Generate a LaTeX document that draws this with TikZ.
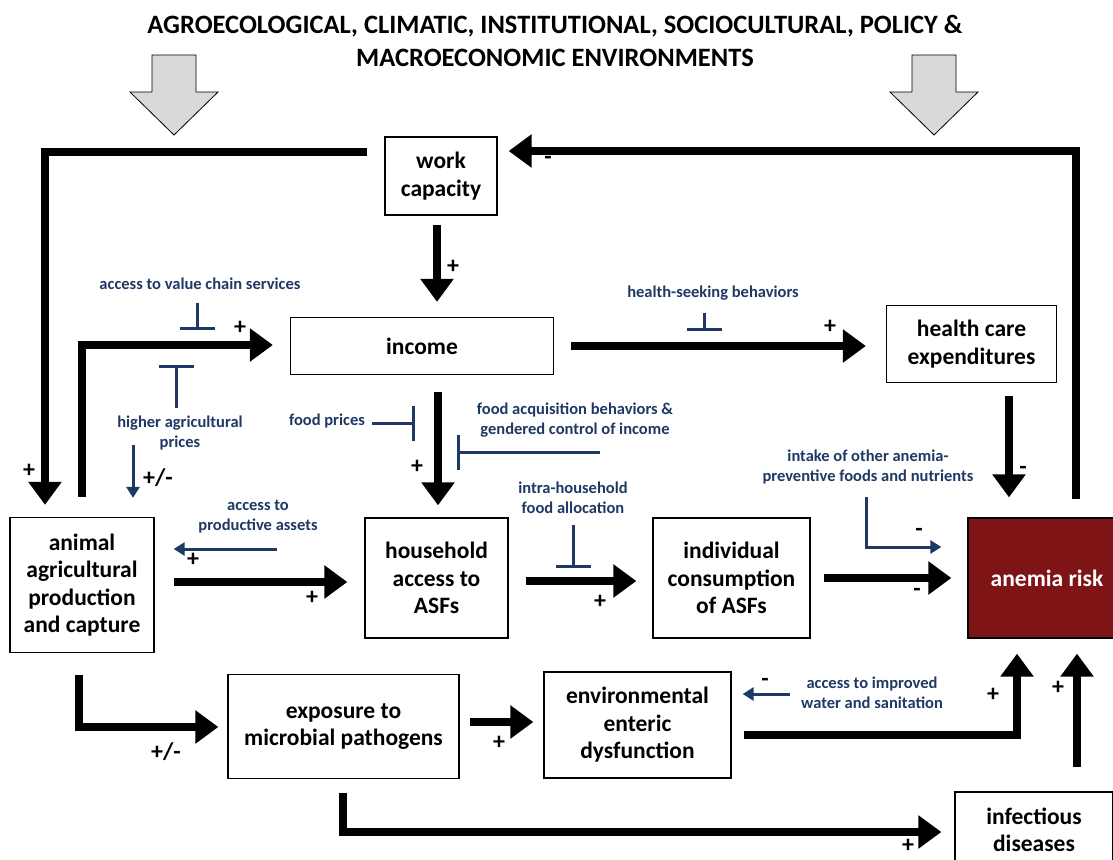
\documentclass[tikz,border=0pt]{standalone}
\usepackage{fontspec}
\setmainfont{Carlito}
\usetikzlibrary{arrows.meta,calc}
\definecolor{navy}{HTML}{1F3864}
\definecolor{anemred}{HTML}{7F1416}
\definecolor{arrgray}{HTML}{D9D9D9}
\begin{document}
\begin{tikzpicture}[x=1pt,y=-1pt,
 box/.style={draw, line width=1.3pt, align=center, font=\fontsize{23.5}{27.5}\selectfont\bfseries, inner sep=0pt},
 lab/.style={text=navy, align=center, font=\fontsize{16.5}{20}\selectfont\bfseries, inner sep=0pt},
 sgn/.style={font=\fontsize{24}{24}\selectfont\bfseries, inner sep=0pt},
 bigarrow/.style={line width=8pt, -{Triangle[width=32pt,length=23pt]}},
 barrow/.style={draw=navy, line width=3pt, -{Triangle[width=13pt,length=11pt]}},
 inhib/.style={draw=navy, line width=3pt, -{Bar[width=35pt]}},
 garrow/.style={draw=black, line width=0.8pt, fill=arrgray, line join=miter},
]
\useasboundingbox (0,0) rectangle (1113,859);

% title
\node[font=\fontsize{26.5}{33}\selectfont\bfseries, align=center] (title) at (555,41)
 {AGROECOLOGICAL, CLIMATIC, INSTITUTIONAL, SOCIOCULTURAL, POLICY \&\\MACROECONOMIC ENVIRONMENTS};

% gray arrows
\draw[garrow] (152,55) -- (196,55) -- (196,92) -- (218,92) -- (174,135) -- (130,92) -- (152,92) -- cycle;
\draw[garrow] (912,55) -- (956,55) -- (956,92) -- (978,92) -- (934,135) -- (890,92) -- (912,92) -- cycle;

% boxes
\node[box, minimum width=112pt, minimum height=78pt] (work) at (441,176) {work\\capacity};
\node[box, minimum width=263pt, minimum height=57pt] (income) at (422,346) {income};
\node[box, minimum width=170pt, minimum height=77pt] (hce) at (971.5,344) {health care\\expenditures};
\node[box, minimum width=144pt, minimum height=135pt] (animal) at (82,585) {animal\\agricultural\\production\\and capture};
\node[box, minimum width=143pt, minimum height=120pt] (household) at (436.5,578) {household\\access to\\ASFs};
\node[box, minimum width=157pt, minimum height=120pt] (indiv) at (731.5,578) {individual\\consumption\\of ASFs};
\node[box, fill=anemred, text=white, minimum width=158pt, minimum height=120pt] (anemia) at (1047,578) {anemia risk};
\node[box, minimum width=231pt, minimum height=104pt] (exposure) at (343.5,726.5) {exposure to\\microbial pathogens};
\node[box, minimum width=187pt, minimum height=106pt] (eed) at (637.5,725) {environmental\\enteric\\dysfunction};
\node[box, minimum width=158pt, minimum height=76pt] (infect) at (1034,830) {infectious\\diseases};

% black connectors
\draw[bigarrow] ($(work.west)+(-17,-24)$) -| ($(animal.north)+(-37,-12)$);
\draw[bigarrow] ($(anemia.north)+(29,-18)$) |- ($(work.east)+(11,-25)$);
\draw[bigarrow] ($(work.south)+(-4,9)$) -- ($(income.north)+(15,-15)$);
\draw[bigarrow] ($(income.south)+(16,17)$) -- ($(household.north)+(1.5,-12)$);
\draw[bigarrow] ($(animal.north)+(0,-20)$) |- ($(income.west)+(-17,-1)$);
\draw[bigarrow] ($(income.east)+(17,0)$) -- ($(hce.west)+(-20,2)$);
\draw[bigarrow] ($(hce.south)+(37.5,12.5)$) -- ($(anemia.north)+(-38,-20)$);
\draw[bigarrow] ($(animal.east)+(19,-3)$) -- ($(household.west)+(-17,4)$);
\draw[bigarrow] ($(household.east)+(17,3)$) -- ($(indiv.west)+(-16,3)$);
\draw[bigarrow] ($(indiv.east)+(13,0)$) -- ($(anemia.west)+(-16,0)$);
\draw[bigarrow] ($(animal.south)+(-3,21.5)$) |- ($(exposure.west)+(-9,0.5)$);
\draw[bigarrow] ($(exposure.east)+(10,-4.5)$) -- ($(eed.west)+(-10,-3)$);
\draw[bigarrow] ($(exposure.south)+(-0.5,13.5)$) |- ($(infect.west)+(-13,2)$);
\draw[bigarrow] ($(eed.east)+(12,10)$) -| ($(anemia.south)+(-30,15)$);
\draw[bigarrow] ($(infect.north)+(43,-24)$) -- ($(anemia.south)+(30,15)$);

% blue labels
\node[lab] (vcs) at (200,284) {access to value chain services};
\node[lab] (hap) at (180,433) {higher agricultural\\prices};
\node[lab] (fp) at (327,421) {food prices};
\node[lab] (fab) at (575,420.5) {food acquisition behaviors \&\\gendered control of income};
\node[lab] (hsb) at (713,293) {health-seeking behaviors};
\node[lab] (ihf) at (573,498) {intra-household\\food allocation};
\node[lab] (pa) at (258,517) {access to\\productive assets};
\node[lab] (ioa) at (868,467) {intake of other anemia-\\preventive foods and nutrients};
\node[lab] (aiw) at (872,693) {access to improved\\water and sanitation};

% blue connectors
\draw[inhib] ($(vcs)+(-3,19)$) -- ($(vcs)+(-3,46)$);
\draw[inhib] ($(hap)+(-4,-25)$) -- ($(hap)+(-4,-68)$);
\draw[barrow] ($(hap)+(-47,12)$) -- ($(animal.north)+(51,-19)$);
\draw[inhib] ($(fp)+(45,2)$) -- ($(fp)+(88,2)$);
\draw[inhib] ($(fab)+(25,31.5)$) -- ($(fab)+(-118,31.5)$);
\draw[inhib] ($(hsb)+(-9,20)$) -- ($(hsb)+(-9,38)$);
\draw[inhib] ($(ihf)+(0,27)$) -- ($(ihf)+(0,70)$);
\draw[barrow] ($(pa)+(19,32)$) -- ($(animal.east)+(19,-36)$);
\draw[barrow] ($(ioa)+(-2,30)$) |- ($(anemia.west)+(-26,-31)$);
\draw[barrow] ($(aiw)+(-82,1)$) -- ($(eed.east)+(11,-31)$);

% signs
\node[sgn] (s1) at (29,471) {+};
\node[sgn] (s2) at (240,328) {+};
\node[sgn] (s3) at (158,478) {+/-};
\node[sgn] (s4) at (453,267) {+};
\node[sgn] (s5) at (548,160) {-};
\node[sgn] (s6) at (830,327) {+};
\node[sgn] (s7) at (417,467) {+};
\node[sgn] (s8) at (1023,470) {-};
\node[sgn] (s9) at (193,560) {+};
\node[sgn] (s10) at (312,598) {+};
\node[sgn] (s11) at (600,602) {+};
\node[sgn] (s12) at (919,532) {-};
\node[sgn] (s13) at (917,592) {-};
\node[sgn] (s14) at (166,752) {+/-};
\node[sgn] (s15) at (499,743) {+};
\node[sgn] (s16) at (765,682) {-};
\node[sgn] (s17) at (993,695) {+};
\node[sgn] (s18) at (1058,688) {+};
\node[sgn] (s19) at (908,846) {+};
\end{tikzpicture}
\end{document}
